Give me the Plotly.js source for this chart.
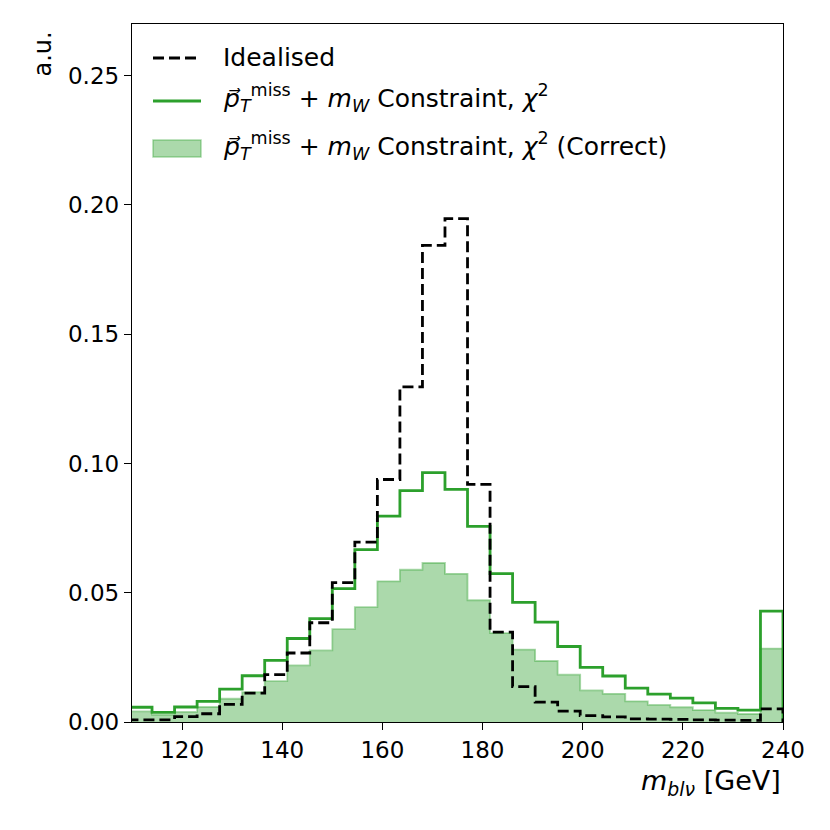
<!DOCTYPE html>
<html>
<head>
<meta charset="utf-8">
<script src="https://cdn.plot.ly/plotly-3.0.1.min.js"></script>
<style>html,body{margin:0;padding:0;background:#fff;}#chart{width:830px;height:830px;}</style>
</head>
<body>
<div id="chart"></div>
<script>
// Bin edges of the histogram [GeV]
const binEdges = [109.5, 114, 118.5, 123, 127.5, 132, 136.5, 141, 145.5, 150, 154.5, 159, 163.5, 168, 172.5, 177, 181.5, 186, 190.5, 195, 199.5, 204, 208.5, 213, 217.5, 222, 226.5, 231, 235.5, 240];

// Normalised bin contents (a.u.)
const idealised = [0.0008, 0.0008, 0.0021, 0.0032, 0.0068, 0.0112, 0.0183, 0.0267, 0.0384, 0.0539, 0.0696, 0.0938, 0.1296, 0.1844, 0.1947, 0.0919, 0.0348, 0.0137, 0.0077, 0.0042, 0.0025, 0.0020, 0.0012, 0.0011, 0.0010, 0.0008, 0.0007, 0.0006, 0.0051];
const chi2 = [0.0057, 0.0037, 0.0058, 0.0080, 0.0127, 0.0179, 0.0238, 0.0323, 0.0400, 0.0516, 0.0667, 0.0796, 0.0895, 0.0965, 0.0900, 0.0757, 0.0574, 0.0463, 0.0386, 0.0292, 0.0211, 0.0178, 0.0131, 0.0108, 0.0092, 0.0074, 0.0053, 0.0046, 0.0429];
const chi2Correct = [0.0041, 0.0028, 0.0039, 0.0058, 0.0090, 0.0115, 0.0158, 0.0219, 0.0277, 0.0359, 0.0444, 0.0544, 0.0589, 0.0615, 0.0573, 0.0471, 0.0344, 0.0280, 0.0236, 0.0183, 0.0122, 0.0109, 0.0080, 0.0066, 0.0057, 0.0046, 0.0036, 0.0031, 0.0284];

// Labels
const legendLabels = [
  "Idealised",
  "<i>p\u20D7</i><sub><i>T</i></sub><sup>miss</sup> + <i>m</i><sub><i>W</i></sub> Constraint, <i>\u03C7</i><sup>2</sup>",
  "<i>p\u20D7</i><sub><i>T</i></sub><sup>miss</sup> + <i>m</i><sub><i>W</i></sub> Constraint, <i>\u03C7</i><sup>2</sup> (Correct)"
];
const xTicks = [120, 140, 160, 180, 200, 220, 240];
const yTicks = [0, 0.05, 0.10, 0.15, 0.20, 0.25];

function stepOutline(edges, vals) {
  const xs = [edges[0]], ys = [0];
  for (let i = 0; i < vals.length; i++) { xs.push(edges[i]); ys.push(vals[i]); }
  xs.push(edges[edges.length - 1]); ys.push(vals[vals.length - 1]);
  xs.push(edges[edges.length - 1]); ys.push(0);
  return {x: xs, y: ys};
}

const GREEN = '#2ca02c';
const FILL = 'rgba(44,160,44,0.4)';
const FONT = 'DejaVu Sans';

const sC = stepOutline(binEdges, chi2Correct);
const sG = stepOutline(binEdges, chi2);
const sI = stepOutline(binEdges, idealised);

const traces = [
  {x: sC.x, y: sC.y, type: 'scatter', mode: 'lines', line: {shape: 'hv', color: FILL, width: 1.8},
   fill: 'tozeroy', fillcolor: FILL, name: legendLabels[2], showlegend: false, hoverinfo: 'skip'},
  {x: sG.x, y: sG.y, type: 'scatter', mode: 'lines', line: {shape: 'hv', color: GREEN, width: 2.8},
   name: legendLabels[1], showlegend: false, hoverinfo: 'skip'},
  {x: sI.x, y: sI.y, type: 'scatter', mode: 'lines', line: {shape: 'hv', color: 'black', width: 2.8, dash: '11px,5px'},
   name: legendLabels[0], showlegend: false, hoverinfo: 'skip'}
];

// plot area in pixels
const L = 132, R = 783, T = 24, B = 722;
const px = v => (v - L) / (R - L);
const py = v => (B - v) / (B - T);

const legFont = {family: FONT, size: 25, color: 'black'};
const legTextX = px(221);

const layout = {
  width: 830, height: 830,
  margin: {l: L, r: 830 - R, t: T, b: 830 - B, pad: 0},
  paper_bgcolor: 'white', plot_bgcolor: 'white',
  showlegend: false,
  font: {family: FONT, size: 23, color: 'black'},
  xaxis: {
    range: [110, 240], tickvals: xTicks, ticktext: xTicks.map(String),
    showline: true, mirror: true, linecolor: 'black', linewidth: 1.4,
    ticks: 'outside', ticklen: 7, tickwidth: 1.4, tickcolor: 'black',
    showgrid: false, zeroline: false, tickfont: {family: FONT, size: 23}
  },
  yaxis: {
    range: [0, 0.27], tickvals: yTicks, ticktext: yTicks.map(v => v.toFixed(2)),
    showline: true, mirror: true, linecolor: 'black', linewidth: 1.4,
    ticks: 'outside', ticklen: 7, tickwidth: 1.4, tickcolor: 'black',
    showgrid: false, zeroline: false, tickfont: {family: FONT, size: 23}
  },
  shapes: [
    {type: 'line', xref: 'paper', yref: 'paper', x0: px(153), x1: px(201), y0: py(58), y1: py(58),
     line: {color: 'black', width: 2.8, dash: '11px,5px'}},
    {type: 'line', xref: 'paper', yref: 'paper', x0: px(153), x1: px(201), y0: py(101), y1: py(101),
     line: {color: GREEN, width: 2.8}},
    {type: 'rect', xref: 'paper', yref: 'paper', x0: px(153), x1: px(201), y0: py(157), y1: py(140),
     fillcolor: FILL, line: {color: FILL, width: 1.5}}
  ],
  annotations: [
    {text: legendLabels[0], xref: 'paper', yref: 'paper', x: legTextX, y: py(57), xanchor: 'left', yanchor: 'middle', showarrow: false, font: legFont},
    {text: legendLabels[1], xref: 'paper', yref: 'paper', x: legTextX, y: py(98), xanchor: 'left', yanchor: 'middle', showarrow: false, font: legFont},
    {text: legendLabels[2], xref: 'paper', yref: 'paper', x: legTextX, y: py(146), xanchor: 'left', yanchor: 'middle', showarrow: false, font: legFont},
    {text: '<i>m</i><sub><i>bl\u03BD</i></sub> [GeV]', xref: 'paper', yref: 'paper', x: 1, y: py(782), xanchor: 'right', yanchor: 'middle', showarrow: false, font: {family: FONT, size: 27, color: 'black'}},
    {text: 'a.u.', xref: 'paper', yref: 'paper', x: px(42), y: 1, yshift: -5, xanchor: 'center', yanchor: 'top', textangle: -90, showarrow: false, font: {family: FONT, size: 24, color: 'black'}}
  ]
};

Plotly.newPlot('chart', traces, layout, {displayModeBar: false});
</script>
</body>
</html>
